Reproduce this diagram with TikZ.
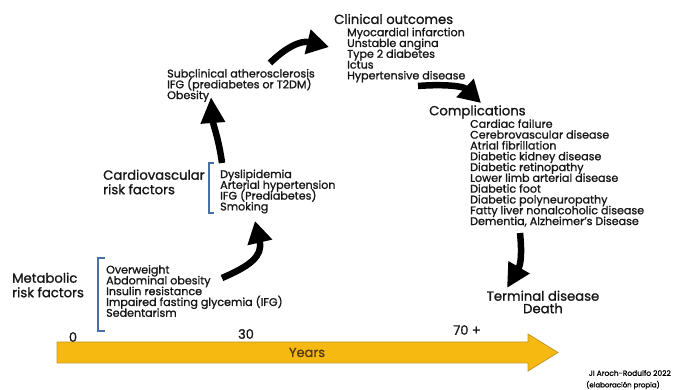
\documentclass[tikz,border=0pt]{standalone}
\usepackage{fontspec}
\setmainfont{Poppins}[FakeBold=1.2]
\usetikzlibrary{arrows.meta}
\definecolor{bargold}{RGB}{246,185,18}
\definecolor{bardark}{RGB}{196,150,45}
\definecolor{brackblue}{RGB}{72,112,170}
\definecolor{inkgray}{RGB}{22,22,22}
\newcommand\headfont{\fontsize{13.2}{14.5}\selectfont\lineskiplimit=-20pt\relax}
\newcommand\itemfont{\fontsize{11.1}{10.8}\selectfont\lineskiplimit=-20pt\relax}
\newcommand\lastfont{\fontsize{13.2}{12.5}\selectfont\lineskiplimit=-20pt\relax}
\tikzset{
  head/.style={font=\headfont,inner sep=0pt,align=left,text=inkgray},
  items/.style={font=\itemfont,inner sep=0pt,align=left,text=inkgray},
  age/.style={font=\fontsize{13}{14}\selectfont,inner sep=0pt,text=inkgray},
  brack/.style={draw=brackblue,line width=1.4pt},
  bigarrow/.style={line width=6.5pt,-{Triangle[length=22pt,width=24pt]}}
}
\begin{document}
\begin{tikzpicture}[x=1pt,y=-1pt]
\useasboundingbox (0,0) rectangle (673,390);
%\draw[gray!30] (0,0) grid[step=50] (673,390);
% texts
\node[head,anchor=west] (metlbl) at (12,285) {Metabolic\\risk factors};
\node[items,anchor=west] (metlist) at (106,291) {Overweight\\Abdominal obesity\\Insulin resistance\\Impaired fasting glycemia (IFG)\\Sedentarism};
\node[head,anchor=west] (cvlbl) at (103,182) {Cardiovascular\\risk factors};
\node[items,anchor=west] (cvlist) at (220,191.5) {Dyslipidemia\\Arterial hypertension\\IFG (Prediabetes)\\Smoking};
\node[items,anchor=west] (sublist) at (167,85.5) {Subclinical atherosclerosis\\IFG (prediabetes or T2DM)\\Obesity};
\node[head,anchor=west] (clinhead) at (334,19) {Clinical outcomes};
\node[items,anchor=west] (clinlist) at (347,55) {Myocardial infarction\\Unstable angina\\Type 2 diabetes\\Ictus\\Hypertensive disease};
\node[head,anchor=west] (comphead) at (429,112) {Complications};
\node[items,anchor=west] (complist) at (470,173) {Cardiac failure\\Cerebrovascular disease\\Atrial fibrillation\\Diabetic kidney disease\\Diabetic retinopathy\\Lower limb arterial disease\\Diabetic foot\\Diabetic polyneuropathy\\Fatty liver nonalcoholic disease\\Dementia, Alzheimer's Disease};
\node[head,align=center,font=\lastfont] (terminal) at (543,302) {Terminal disease\\Death};
% brackets
\draw[brack] (105,258) -- (98,258) -- (98,331) -- (105,331);
\draw[brack] (214,163) -- (209,163) -- (209,213) -- (214,213);
% arrows between stages
\coordinate (a1s) at (222,278);
\coordinate (a1e) at (255,221);
\coordinate (a2s) at (222,163);
\coordinate (a2e) at (211,97);
\coordinate (a3s) at (270,63);
\coordinate (a3e) at (329,47);
\coordinate (a4s) at (418,86);
\coordinate (a4e) at (481,103);
\coordinate (a5s) at (520,233);
\coordinate (a5e) at (507,288);
\draw[bigarrow] (a1s) .. controls (250,266) and (263,256) .. (a1e);
\draw[bigarrow,-{Triangle[length=26pt,width=23pt]}] (a2s) .. controls (219,140) and (213,124) .. (a2e);
\draw[bigarrow] (a3s) .. controls (284,49) and (300,40) .. (a3e);
\draw[bigarrow] (a4s) .. controls (443,84) and (463,86) .. (a4e);
\draw[bigarrow,-{Triangle[length=24pt,width=23pt]}] (a5s) .. controls (522,252) and (521,264) .. (a5e);
% time bar
\fill[bargold,draw=bardark,line width=0.8pt] (57,342) -- (528,342) -- (528,334) -- (558,352.5) -- (528,371) -- (528,363) -- (57,363) -- cycle;
\node[font=\fontsize{13}{14}\selectfont,text={rgb,255:red,85;green,60;blue,20}] (years) at (307,352.5) {Years};
\node[age] (y0) at (73,337) {0};
\node[age] (y30) at (246,334) {30};
\node[age] (y70) at (467,330) {70 +};
% credit
\node[font=\fontsize{7.5}{8}\selectfont,inner sep=0pt,anchor=east] (credit) at (671,373) {JI Aroch-Rodulfo 2022};
\node[font=\fontsize{7}{8}\selectfont,inner sep=0pt] (credit2) at (623,385) {(elaboración propia)};
\end{tikzpicture}
\end{document}
